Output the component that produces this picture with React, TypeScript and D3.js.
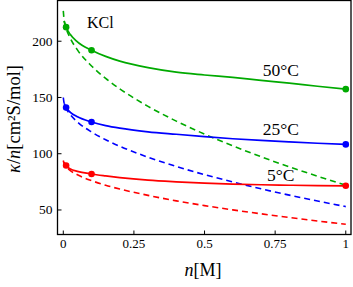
import { useRef, useEffect } from "react";
import * as d3 from "d3";

// concentration grid (M) the curves are read at
const nGrid = [0, 0.003, 0.01, 0.025, 0.05, 0.1, 0.15, 0.2, 0.3, 0.4, 0.5, 0.6, 0.7, 0.8, 0.9, 1];

// solid curves (model), no value at n = 0
const solid50 = [null, 218, 212.5, 205.9, 199.4, 192, 186.5, 182.3, 176.5, 172.5, 170, 167.8, 165.2, 162.7, 160, 157.5];
const solid25 = [null, 144.8, 141, 136.8, 132.8, 128.2, 125, 122.7, 119.5, 117.3, 115.2, 113.3, 111.8, 110.5, 109.3, 108.3];
const solid5 = [null, 92.5, 89.5, 86.5, 84.3, 82, 80.3, 78.8, 76.5, 75, 73.8, 73, 72.4, 72, 71.6, 71.5];

// dashed curves (limiting law)
const dashed50 = [227, 218.5, 211.5, 202.5, 192.3, 178, 167, 157.7, 142.1, 129, 117.4, 107, 97.3, 88.4, 80, 72];
const dashed25 = [150, 144.7, 140.3, 134.7, 128.3, 119.3, 112.4, 106.6, 96.9, 88.7, 81.4, 74.9, 68.8, 63.2, 58, 53];
const dashed5 = [94, 90.9, 88.3, 85, 81.3, 76.1, 72, 68.6, 63, 58.1, 53.9, 50.1, 46.6, 43.3, 40.2, 37.3];

// measured points
const nMeasured = [0.01, 0.1, 1];
const meas50 = [212.5, 192, 157.4];
const meas25 = [141, 128.2, 108.3];
const meas5 = [89.5, 82, 71.5];

const xTicks = [0, 0.25, 0.5, 0.75, 1];
const xTickLabels = ["0", "0.25", "0.5", "0.75", "1"];
const yTicks = [50, 100, 150, 200];

const W = 353;
const H = 287;
const serif = "'Liberation Serif', 'DejaVu Serif', serif";

const series = [
  { label: "50°C", color: "#00aa00", solid: solid50, dashed: dashed50, meas: meas50, lx: 0.77, ly: 169 },
  { label: "25°C", color: "#0000ff", solid: solid25, dashed: dashed25, meas: meas25, lx: 0.77, ly: 116.5 },
  { label: "5°C", color: "#ff0000", solid: solid5, dashed: dashed5, meas: meas5, lx: 0.77, ly: 75.5 },
];

const App = () => {
  const svgRef = useRef<SVGSVGElement | null>(null);

  useEffect(() => {
    if (!svgRef.current) return;
    const svg = d3.select(svgRef.current);
    svg.selectAll("*").remove();

    const frame = { left: 57.5, right: 351, top: 0.5, bottom: 234.5 };

    const x = d3.scaleLinear().domain([-0.0205, 1.0185]).range([frame.left, frame.right]);
    const y = d3.scaleLinear().domain([28.2, 236.2]).range([frame.bottom, frame.top]);

    svg
      .append("defs")
      .append("clipPath")
      .attr("id", "plot-clip")
      .append("rect")
      .attr("x", frame.left)
      .attr("y", frame.top)
      .attr("width", frame.right - frame.left)
      .attr("height", frame.bottom - frame.top);

    const plot = svg.append("g").attr("clip-path", "url(#plot-clip)");

    const line = d3
      .line<number | null>()
      .defined((d) => d !== null)
      .x((_, i) => x(nGrid[i]))
      .y((d) => y(d as number))
      .curve(d3.curveMonotoneX);

    series.forEach((s) => {
      plot
        .append("path")
        .datum(s.dashed)
        .attr("fill", "none")
        .attr("stroke", s.color)
        .attr("stroke-width", 1.6)
        .attr("stroke-dasharray", "6,4")
        .attr("d", line);

      plot
        .append("path")
        .datum(s.solid)
        .attr("fill", "none")
        .attr("stroke", s.color)
        .attr("stroke-width", 1.7)
        .attr("d", line);

      plot
        .selectAll(null)
        .data(s.meas)
        .enter()
        .append("circle")
        .attr("cx", (_, i) => x(nMeasured[i]))
        .attr("cy", (d) => y(d))
        .attr("r", 3.3)
        .attr("fill", s.color);
    });

    // frame
    svg
      .append("rect")
      .attr("x", frame.left)
      .attr("y", frame.top)
      .attr("width", frame.right - frame.left)
      .attr("height", frame.bottom - frame.top)
      .attr("fill", "none")
      .attr("stroke", "#000")
      .attr("stroke-width", 1.3);

    // ticks (inward)
    xTicks.forEach((t, i) => {
      svg
        .append("line")
        .attr("x1", x(t))
        .attr("x2", x(t))
        .attr("y1", frame.bottom)
        .attr("y2", frame.bottom - 4)
        .attr("stroke", "#000")
        .attr("stroke-width", 1);
      svg
        .append("text")
        .attr("x", x(t))
        .attr("y", 248)
        .attr("text-anchor", "middle")
        .attr("font-family", serif)
        .attr("font-size", 13)
        .text(xTickLabels[i]);
    });

    yTicks.forEach((t) => {
      svg
        .append("line")
        .attr("x1", frame.left)
        .attr("x2", frame.left + 4)
        .attr("y1", y(t))
        .attr("y2", y(t))
        .attr("stroke", "#000")
        .attr("stroke-width", 1);
      svg
        .append("text")
        .attr("x", frame.left - 5)
        .attr("y", y(t) + 4.5)
        .attr("text-anchor", "end")
        .attr("font-family", serif)
        .attr("font-size", 13.5)
        .text(String(t));
    });

    // axis titles
    const xt = svg
      .append("text")
      .attr("x", 203)
      .attr("y", 276)
      .attr("text-anchor", "middle")
      .attr("font-family", serif)
      .attr("font-size", 18);
    xt.append("tspan").attr("font-style", "italic").text("n");
    xt.append("tspan").text("[M]");

    const yt = svg
      .append("text")
      .attr("transform", "translate(20,119) rotate(-90)")
      .attr("text-anchor", "middle")
      .attr("font-family", serif)
      .attr("font-size", 18.5);
    yt.append("tspan").attr("font-style", "italic").text("κ");
    yt.append("tspan").text("/");
    yt.append("tspan").attr("font-style", "italic").text("n");
    yt.append("tspan").text("[cm²S/mol]");

    // annotations
    svg
      .append("text")
      .attr("x", x(0.084))
      .attr("y", y(212))
      .attr("font-family", serif)
      .attr("font-size", 16)
      .text("KCl");

    series.forEach((s) => {
      svg
        .append("text")
        .attr("x", x(s.lx))
        .attr("y", y(s.ly))
        .attr("text-anchor", "middle")
        .attr("font-family", serif)
        .attr("font-size", 17.5)
        .text(s.label);
    });
  }, []);

  return (
    <div style={{ position: "absolute", left: 0, top: 0 }}>
      <svg ref={svgRef} width={W} height={H} style={{ display: "block", background: "#fff" }}></svg>
    </div>
  );
};

export default App;
